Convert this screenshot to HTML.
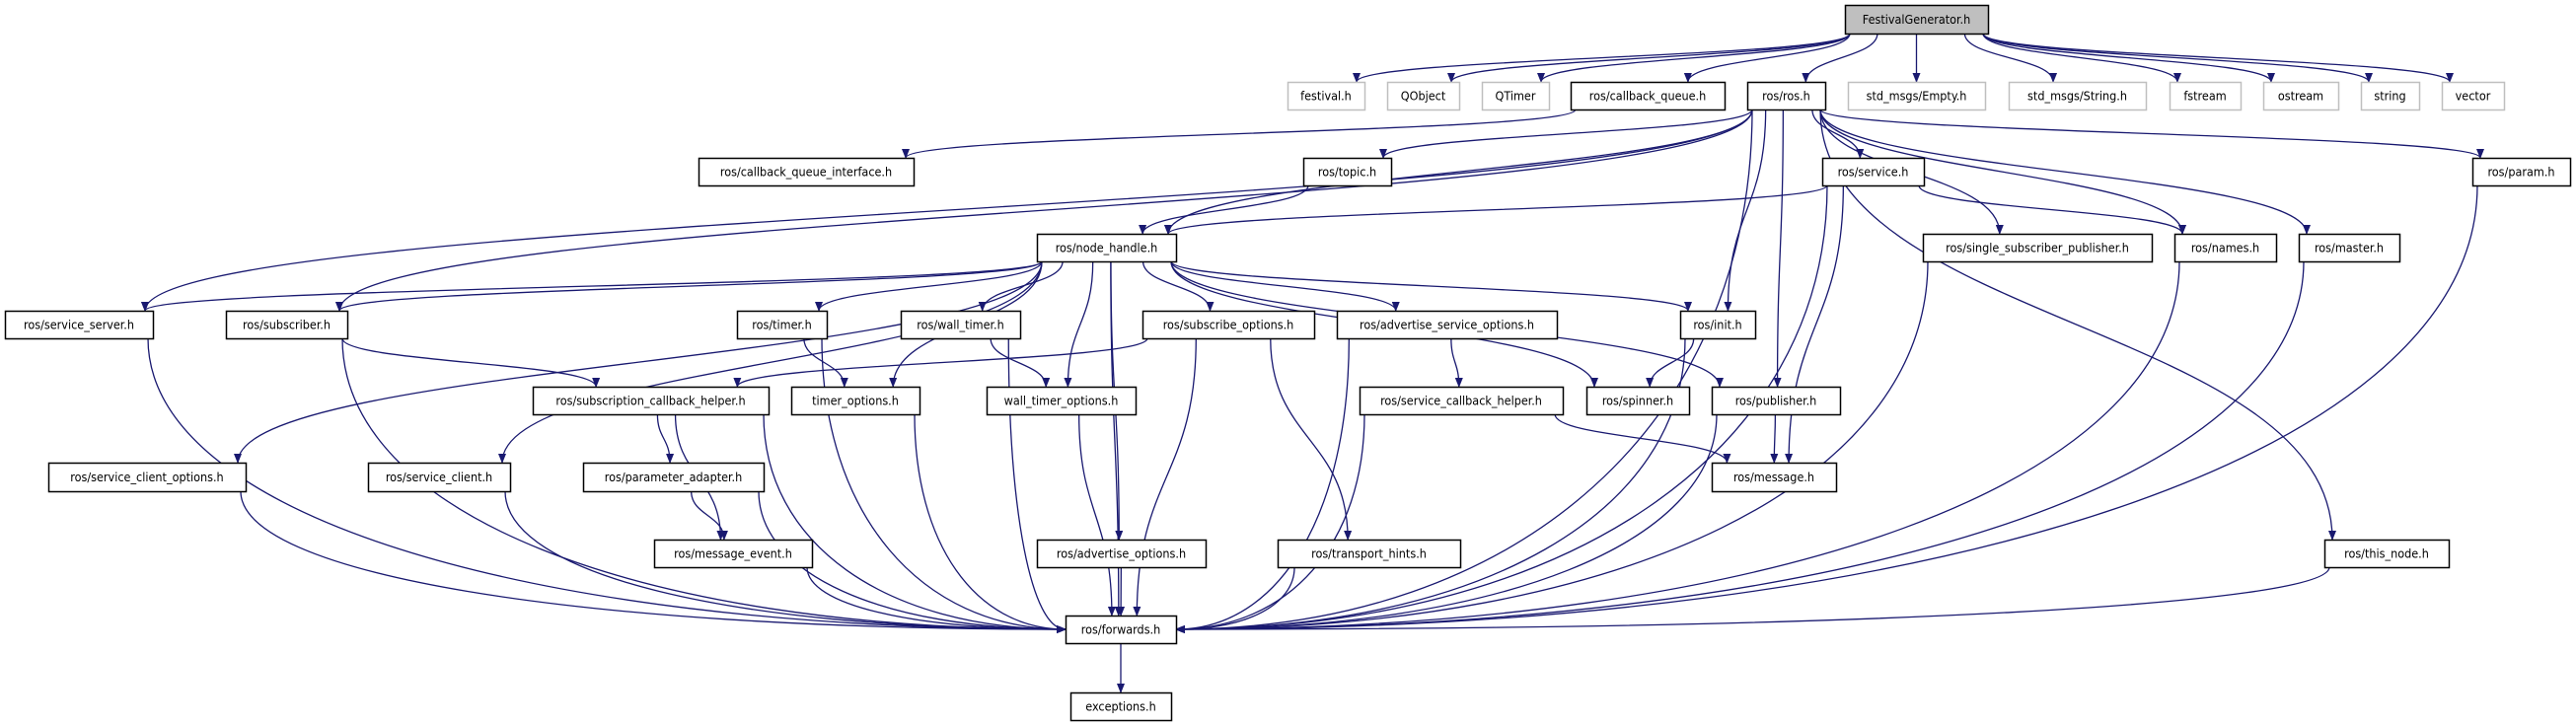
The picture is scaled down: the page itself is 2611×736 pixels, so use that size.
<!DOCTYPE html>
<html><head><meta charset="utf-8"><style>
html,body{margin:0;padding:0;background:#fff;}
svg{display:block}
text{font-family:"DejaVu Sans Condensed","Liberation Sans Narrow","DejaVu Sans","Liberation Sans",sans-serif;font-size:12.5px;fill:#000}
</style></head><body>
<svg id="g" width="2611" height="736" viewBox="0 0 2611 736" xmlns="http://www.w3.org/2000/svg">
<defs><marker id="a" markerWidth="10" markerHeight="8" refX="9" refY="4" orient="auto" markerUnits="userSpaceOnUse"><path d="M0,0 L10,4 L0,8 z" fill="#191970"/></marker></defs>
<g id="e"></g><g id="n"></g>
</svg>
<script>
var N={
FG:[1870,5,2015,34,"FestivalGenerator.h",2],
fes:[1305,83,1383,111,"festival.h",1],
qo:[1406,83,1479,111,"QObject",1],
qt:[1502,83,1570,111,"QTimer",1],
cq:[1592,83,1748,111,"ros/callback_queue.h",0],
ros:[1771,83,1850,111,"ros/ros.h",0],
em:[1873,83,2012,111,"std_msgs/Empty.h",1],
st:[2036,83,2175,111,"std_msgs/String.h",1],
fs:[2199,83,2271,111,"fstream",1],
os:[2294,83,2370,111,"ostream",1],
sg:[2393,83,2452,111,"string",1],
vc:[2475,83,2538,111,"vector",1],
cqi:[708,160,926,188,"ros/callback_queue_interface.h",0],
top:[1321,160,1410,188,"ros/topic.h",0],
svc:[1847,160,1950,188,"ros/service.h",0],
par:[2506,160,2605,188,"ros/param.h",0],
nh:[1051,237,1192,265,"ros/node_handle.h",0],
ssp:[1949,237,2181,265,"ros/single_subscriber_publisher.h",0],
nm:[2204,237,2307,265,"ros/names.h",0],
ms:[2330,237,2432,265,"ros/master.h",0],
ss:[5,315,155,343,"ros/service_server.h",0],
sub:[229,315,352,343,"ros/subscriber.h",0],
tm:[747,315,838,343,"ros/timer.h",0],
wt:[913,315,1034,343,"ros/wall_timer.h",0],
so:[1158,315,1332,343,"ros/subscribe_options.h",0],
aso:[1355,315,1578,343,"ros/advertise_service_options.h",0],
ini:[1703,315,1779,343,"ros/init.h",0],
sch:[540,392,779,420,"ros/subscription_callback_helper.h",0],
to:[802,392,932,420,"timer_options.h",0],
wto:[1000,392,1151,420,"wall_timer_options.h",0],
sbh:[1378,392,1584,420,"ros/service_callback_helper.h",0],
sp:[1608,392,1712,420,"ros/spinner.h",0],
pub:[1735,392,1865,420,"ros/publisher.h",0],
sco:[49,469,249,498,"ros/service_client_options.h",0],
sc:[373,469,517,498,"ros/service_client.h",0],
pa:[591,469,774,498,"ros/parameter_adapter.h",0],
msg:[1735,469,1861,498,"ros/message.h",0],
me:[663,547,823,575,"ros/message_event.h",0],
ao:[1051,547,1222,575,"ros/advertise_options.h",0],
th:[1295,547,1480,575,"ros/transport_hints.h",0],
tn:[2356,547,2482,575,"ros/this_node.h",0],
fw:[1080,624,1192,652,"ros/forwards.h",0],
ex:[1085,702,1187,730,"exceptions.h",0]
};
var E=[["FG","fes"],["FG","qo"],["FG","qt"],["FG","cq"],["FG","ros"],["FG","em"],["FG","st"],["FG","fs"],["FG","os"],["FG","sg"],["FG","vc"],
["cq","cqi"],["ros","ss"],["ros","sub"],["ros","top"],["ros","nh"],["ros","svc"],["ros","ssp"],["ros","nm"],["ros","ms"],["ros","par"],["ros","ini"],["ros","pub"],["ros","tn"],["ros","fw"],
["top","nh"],["svc","nh"],["svc","nm"],["svc","msg"],["svc","fw"],
["nh","ss"],["nh","sub"],["nh","tm"],["nh","wt"],["nh","wto"],["nh","to"],["nh","so"],["nh","aso"],["nh","ini"],["nh","sp"],["nh","pub"],["nh","sco"],["nh","sc"],["nh","ao"],["nh","fw"],
["ss","fw"],["sub","sch"],["sub","fw"],["tm","to"],["tm","fw"],["wt","wto"],["wt","fw"],["so","sch"],["so","fw"],["so","th"],["aso","sbh"],["aso","fw"],["ini","sp"],["ini","fw"],["pub","msg"],["pub","fw"],
["sch","pa"],["sch","me"],["sch","fw"],["pa","me"],["pa","fw"],["sbh","msg"],["sbh","fw"],["me","fw"],["ao","fw"],["th","fw"],["to","fw"],["wto","fw"],["sco","fw"],["sc","fw"],["ssp","fw"],["nm","fw"],["ms","fw"],["par","fw"],["tn","fw"],["fw","ex"]];
var ns="http://www.w3.org/2000/svg",ge=document.getElementById("e"),gn=document.getElementById("n");
function c(n){return[(n[0]+n[2])/2,(n[1]+n[3])/2];}
E.forEach(function(p){var s=N[p[0]],t=N[p[1]],cs=c(s),ct=c(t);
 var x1,y1,x2,y2,d;
 if(t[1]>s[3]){
  x1=Math.max(s[0]+5,Math.min(s[2]-5,cs[0]+(ct[0]-cs[0])*0.3));y1=s[3];
  if(p[1]=="fw"&&Math.abs(ct[0]-cs[0])>150){x2=ct[0]<cs[0]?t[2]:t[0];y2=ct[1];d="M"+x1+","+y1+" C"+x1+","+(y1+(y2-y1)*0.6)+" "+(x1+(x2-x1)*0.4)+","+y2+" "+x2+","+y2;}
  else{x2=Math.max(t[0]+8,Math.min(t[2]-8,ct[0]+(cs[0]-ct[0])*0.15));y2=t[1];var my=(y1+y2)/2;d="M"+x1+","+y1+" C"+x1+","+my+" "+x2+","+my+" "+x2+","+y2;}
 } else {x1=cs[0];y1=s[3];x2=ct[0];y2=t[1];d="M"+x1+","+y1+" L"+x2+","+y2;}
 var e=document.createElementNS(ns,"path");e.setAttribute("d",d);e.setAttribute("fill","none");e.setAttribute("stroke","#191970");e.setAttribute("stroke-width","1.3");e.setAttribute("marker-end","url(#a)");ge.appendChild(e);});
for(var k in N){var n=N[k];var r=document.createElementNS(ns,"rect");r.setAttribute("x",n[0]+0.5);r.setAttribute("y",n[1]+0.5);r.setAttribute("width",n[2]-n[0]);r.setAttribute("height",n[3]-n[1]);
 r.setAttribute("fill",n[5]==2?"#bfbfbf":"#fff");r.setAttribute("stroke",n[5]==1?"#bfbfbf":"#000");r.setAttribute("stroke-width","1.5");gn.appendChild(r);
 var t=document.createElementNS(ns,"text");t.setAttribute("x",(n[0]+n[2])/2);t.setAttribute("y",(n[1]+n[3])/2+4.5);t.setAttribute("text-anchor","middle");t.textContent=n[4];gn.appendChild(t);}
</script>
</body></html>
